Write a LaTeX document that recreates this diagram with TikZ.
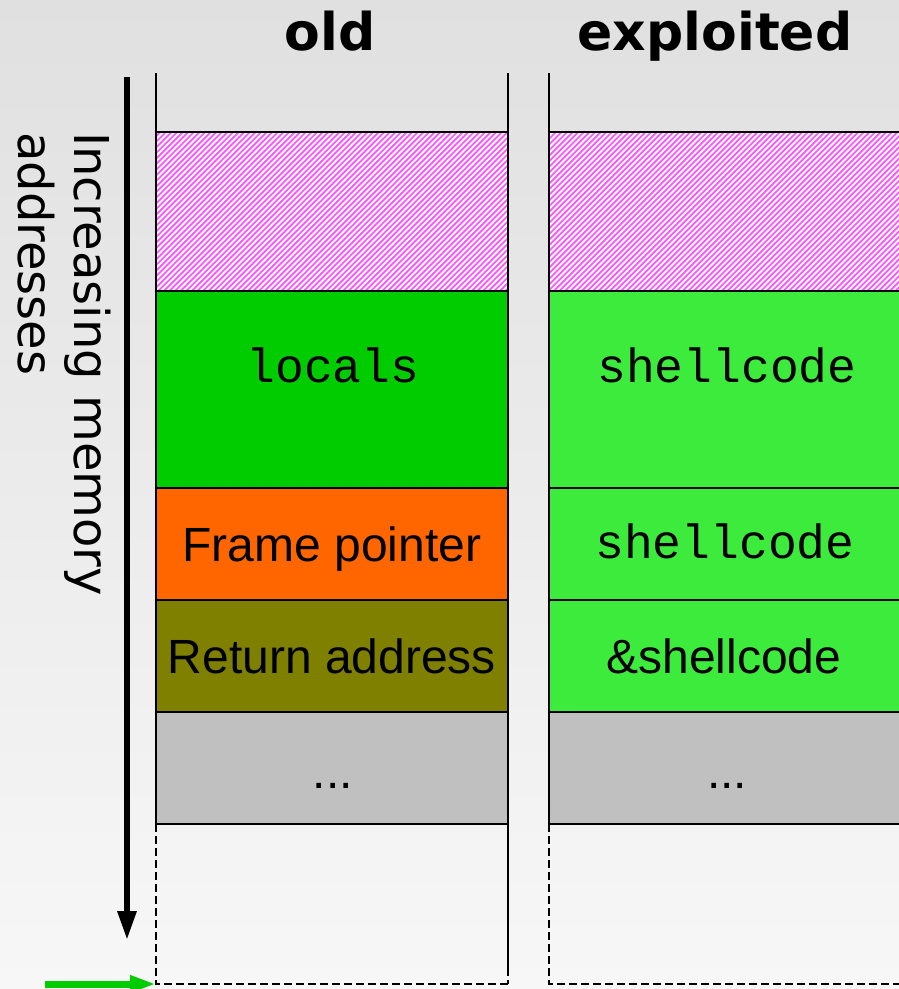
\documentclass[tikz,border=0pt]{standalone}
\usepackage{fontspec}
\setmainfont{Liberation Sans}
\setmonofont{Liberation Mono}
\newfontfamily\dejavu{DejaVu Sans}
\usetikzlibrary{arrows.meta}

\definecolor{bgtop}{RGB}{224,224,224}
\definecolor{bgbot}{RGB}{247,247,247}
\definecolor{localsgreen}{RGB}{0,204,0}
\definecolor{shellgreen}{RGB}{61,235,61}
\definecolor{fporange}{RGB}{255,102,0}
\definecolor{retolive}{RGB}{128,128,0}
\definecolor{restgray}{RGB}{192,192,192}
\definecolor{hatchpink}{RGB}{255,80,255}
\definecolor{arrowgreen}{RGB}{0,204,0}

\tikzset{
  cell/.style={draw=black, line width=2pt, inner sep=0pt, outer sep=0pt, anchor=north west},
  cellline/.style={draw=black, line width=2pt},
  colline/.style={draw=black, line width=2pt},
  dashline/.style={draw=black, line width=2.2pt, dash pattern=on 8pt off 4pt},
  hatchline/.style={draw=hatchpink, line width=1.7pt},
  title/.style={font=\dejavu\bfseries\fontsize{52}{60}\selectfont, anchor=base, inner sep=0pt},
  sanslabel/.style={font=\fontsize{48}{56}\selectfont, anchor=base, inner sep=0pt},
  monolabel/.style={font=\ttfamily\fontsize{48}{56}\selectfont, anchor=base, inner sep=0pt},
}

\begin{document}
\begin{tikzpicture}[x=1pt, y=-1pt]
\useasboundingbox (0,0) rectangle (899,989);
\clip (0,0) rectangle (899,989);
\shade[top color=bgtop, bottom color=bgbot] (0,0) rectangle (899,989);

% column headings
\node[title] (hOld) at (330,50) {old};
\node[title] (hExp) at (715,50) {exploited};

% open tops of the two stacks
\draw[colline] (156,73) -- (156,132);
\draw[colline] (508,73) -- (508,132);
\draw[colline] (549,73) -- (549,132);

% unused region (hatched) in both stacks
\node[cell, fill=white, minimum width=352pt, minimum height=159pt] (padA) at (156,132) {};
\node[cell, fill=white, minimum width=400pt, minimum height=159pt] (padB) at (549,132) {};
\begin{scope}
  \clip (padA.north west) rectangle (padA.south east);
  \foreach \k in {0,...,100} \draw[hatchline] ({-30+\k*5.6},300) -- ++(180,-180);
\end{scope}
\begin{scope}
  \clip (padB.north west) rectangle (padB.south east);
  \foreach \k in {0,...,100} \draw[hatchline] ({360+\k*5.6},300) -- ++(180,-180);
\end{scope}
\draw[cellline] (padA.north west) rectangle (padA.south east);
\draw[cellline] (padB.north west) rectangle (padB.south east);

% old stack frame
\node[cell, fill=localsgreen, minimum width=352pt, minimum height=197pt] (locA) at (156,291) {};
\node[cell, fill=fporange, minimum width=352pt, minimum height=112pt] (fpA) at (156,488) {};
\node[cell, fill=retolive, minimum width=352pt, minimum height=112pt] (retA) at (156,600) {};
\node[cell, fill=restgray, minimum width=352pt, minimum height=112pt] (restA) at (156,712) {};

% exploited stack frame
\node[cell, fill=shellgreen, minimum width=400pt, minimum height=197pt] (locB) at (549,291) {};
\node[cell, fill=shellgreen, minimum width=400pt, minimum height=112pt] (fpB) at (549,488) {};
\node[cell, fill=shellgreen, minimum width=400pt, minimum height=112pt] (retB) at (549,600) {};
\node[cell, fill=restgray, minimum width=400pt, minimum height=112pt] (restB) at (549,712) {};

% contents
\node[monolabel] (tLocals) at (333,382) {locals};
\node[sanslabel] (tFp) at (332,561) {Frame pointer};
\node[sanslabel] (tRet) at (332,673) {Return address};
\node[sanslabel] (tRestA) at (333,788) {...};
\node[monolabel] (tShell1) at (727,382) {shellcode};
\node[monolabel] (tShell2) at (725,558) {shellcode};
\node[sanslabel] (tAddr) at (724,673) {\&shellcode};
\node[sanslabel] (tRestB) at (727,788) {...};

% region below the frames
\coordinate (baseA) at (156,984);
\coordinate (baseAr) at (508,984);
\coordinate (baseB) at (549,984);
\coordinate (solidEnd) at (508,968);
\draw[dashline] (restA.south west) -- (restA.south east);
\draw[dashline] (restA.south west) -- (baseA) -- (baseAr);
\draw[colline] (restA.south east) -- (solidEnd);
\draw[dashline] (solidEnd) -- (baseAr);
\draw[dashline] (restB.south west) -- (baseB) -- (899,984);

% address direction
\coordinate (axTop) at (127,77);
\coordinate (axBot) at (127,940);
\draw[line width=6pt, -{Triangle[width=18pt,length=29pt]}] (axTop) -- (axBot);
\node[font=\dejavu\fontsize{48}{56}\selectfont, rotate=-90, anchor=north west,
      align=left, inner sep=0pt] (axisLabel) at (111,132) {Increasing memory\\addresses};

% stack pointer marker
\coordinate (spStart) at (45,984);
\draw[arrowgreen, line width=7pt, -{Triangle[width=16pt,length=26pt]}] (spStart) -- (baseA);
\end{tikzpicture}
\end{document}
